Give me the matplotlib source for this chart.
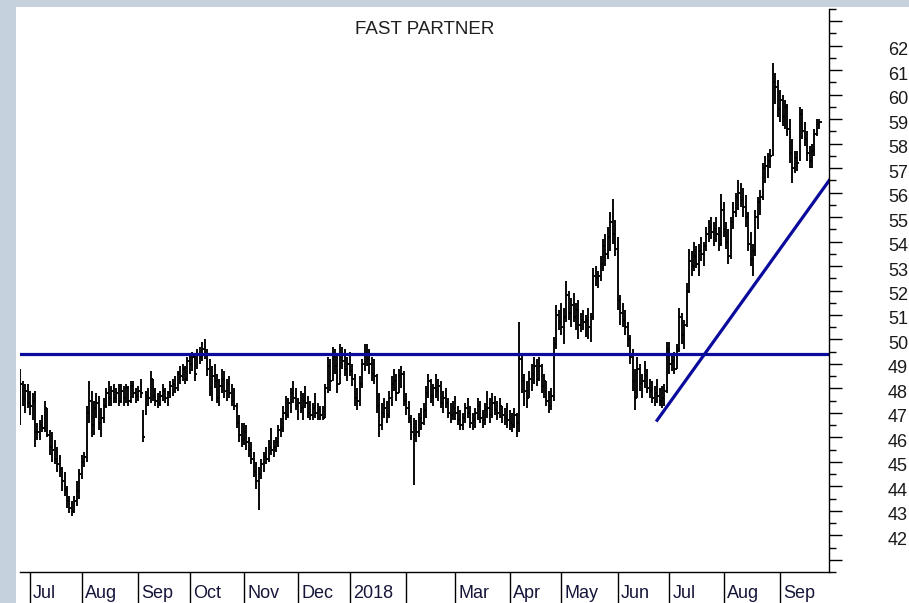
import matplotlib
matplotlib.use('Agg')
import matplotlib.pyplot as plt
import matplotlib.transforms as mtransforms
from matplotlib.patches import Rectangle
import numpy as np
import pandas as pd

plt.rcParams['font.family'] = ['Liberation Sans', 'DejaVu Sans']

# trading days on the chart (Jun 27 2017 .. Sep 25 2018)
dates = pd.bdate_range('2017-06-27', '2018-09-25')

# daily high / low / close, one block per month
hi = [
    # late Jun + Jul 2017
    48.8, 48.3, 48.2, 48.2, 47.9, 47.8, 47.9, 46.6, 46.7, 46.9, 47.5, 47.2, 46.3,
    46.2, 45.9, 45.6, 45.3, 44.8, 44.6, 44.0, 43.6, 43.4, 43.6, 44.2, 44.7,
    # Aug
    45.3, 45.4, 47.3, 48.3, 47.9, 47.5, 47.8, 47.7, 47.2, 47.6, 48.0, 48.3,
    48.1, 48.2, 48.0, 48.2, 48.2, 48.1, 48.2, 48.1, 48.3, 48.3, 48.0,
    # Sep
    48.1, 48.4, 47.1, 47.9, 48.0, 48.7, 48.4, 48.0, 47.8, 47.9, 48.2, 48.0,
    47.9, 48.3, 48.4, 48.5, 48.7, 48.9, 49.0, 48.9, 49.3,
    # Oct
    49.4, 49.5, 49.4, 49.6, 49.7, 49.9, 50.0, 49.6, 49.2, 48.9, 49.0, 48.6,
    48.4, 48.8, 48.7, 48.4, 48.5, 48.2, 48.0, 47.4, 46.9, 46.6,
    # Nov
    46.6, 46.5, 46.0, 45.8, 45.4, 45.0, 44.8, 45.1, 45.4, 45.6, 45.9, 46.4,
    45.9, 46.0, 46.5, 46.8, 47.3, 47.7, 47.6, 48.0, 48.3, 48.0,
    # Dec
    47.6, 47.9, 47.8, 48.1, 47.7, 47.5, 47.4, 47.8, 47.4, 47.3, 47.3, 48.2,
    49.3, 49.2, 49.7, 49.6, 49.4, 49.8, 49.7, 49.6, 49.3,
    # Jan 2018
    49.5, 49.0, 48.6, 48.0, 48.5, 49.2, 49.8, 49.8, 49.6, 49.3, 49.2, 48.6,
    47.8, 47.4, 47.6, 47.5, 47.9, 48.5, 48.8, 48.6, 48.8, 48.9, 48.7,
    # Feb
    47.8, 47.5, 46.9, 46.8, 46.7, 47.0, 47.2, 47.4, 48.1, 48.6, 48.4, 48.2,
    48.6, 48.4, 48.3, 47.9, 48.0, 47.6, 47.4, 47.5,
    # Mar
    47.7, 47.3, 47.1, 47.0, 47.4, 47.6, 47.3, 47.0, 47.2, 47.6, 47.5, 47.1,
    47.4, 47.9, 47.6, 47.8, 47.7, 47.5, 47.6, 47.3, 47.2, 47.4,
    # Apr
    47.1, 47.0, 47.2, 47.0, 50.7, 49.4, 48.6, 48.3, 48.7, 49.0, 49.3, 49.2,
    49.3, 49.0, 48.6, 48.3, 47.9, 48.0, 50.1, 51.4, 51.2,
    # May
    51.5, 51.3, 52.4, 52.0, 51.7, 51.9, 51.5, 51.6, 51.1, 51.2, 51.0, 51.3,
    51.1, 52.9, 53.0, 52.8, 53.4, 54.1, 54.3, 54.6, 55.2, 55.75, 54.9,
    # Jun
    54.2, 51.8, 51.5, 51.2, 50.7, 50.2, 49.6, 48.8, 49.3, 49.0, 48.6, 49.1,
    48.8, 48.4, 48.3, 48.1, 48.4, 48.0, 48.1, 48.2, 49.9,
    # Jul
    49.9, 49.4, 49.5, 49.8, 51.3, 51.1, 50.8, 52.3, 53.7, 53.6, 54.0, 53.8,
    53.9, 54.2, 54.0, 54.6, 54.9, 55.0, 54.8, 55.0, 54.6, 55.95,
    # Aug
    55.6, 54.8, 54.5, 55.0, 55.6, 56.0, 56.5, 56.4, 56.2, 55.9, 55.2, 54.4,
    53.9, 55.3, 55.8, 56.1, 57.2, 57.5, 57.6, 57.8, 61.3, 60.9, 60.6,
    # Sep
    60.2, 60.0, 59.8, 59.6, 59.0, 58.2, 57.7, 57.7, 59.5, 59.4, 58.9, 58.5,
    57.9, 58.0, 58.6, 59.0, 59.0,
]
lo = [
    46.5, 47.3, 47.0, 47.2, 46.9, 46.7, 45.6, 45.9, 45.9, 46.2, 46.2, 46.0, 45.3,
    45.0, 44.9, 44.6, 44.4, 43.8, 43.6, 43.1, 42.9, 42.8, 42.9, 43.2, 43.5,
    44.3, 44.8, 45.0, 46.6, 46.0, 46.1, 46.8, 46.3, 46.0, 46.6, 47.2, 47.3,
    47.3, 47.4, 47.4, 47.3, 47.4, 47.3, 47.4, 47.3, 47.4, 47.6, 47.4,
    47.5, 47.6, 45.8, 46.9, 47.3, 47.4, 47.5, 47.3, 47.2, 47.3, 47.5, 47.4,
    47.3, 47.6, 47.7, 47.8, 47.9, 48.2, 48.3, 48.2, 48.3,
    48.6, 48.7, 48.3, 48.8, 49.0, 49.1, 49.2, 48.5, 47.7, 47.5, 48.0, 47.4,
    47.3, 47.8, 47.6, 47.5, 47.6, 47.3, 47.1, 46.4, 45.8, 45.6,
    45.7, 45.5, 45.2, 44.9, 44.4, 43.9, 43.05, 44.3, 44.6, 44.9, 45.0, 45.3,
    45.2, 45.4, 45.6, 46.0, 46.2, 46.7, 46.8, 47.0, 47.4, 47.1,
    46.7, 47.0, 46.7, 47.2, 46.8, 46.7, 46.7, 46.8, 46.7, 46.7, 46.7, 46.8,
    47.8, 47.9, 48.3, 48.6, 47.8, 48.2, 48.8, 48.5, 48.3,
    48.5, 48.1, 47.3, 47.1, 47.3, 48.0, 48.7, 48.9, 48.6, 48.3, 48.2, 47.0,
    46.0, 46.3, 46.8, 46.6, 46.8, 47.3, 47.9, 47.5, 47.8, 48.0, 47.3,
    46.9, 46.6, 45.9, 44.05, 45.8, 46.0, 46.3, 46.5, 46.8, 47.6, 47.4, 47.3,
    47.6, 47.5, 47.2, 47.0, 47.2, 46.8, 46.6, 46.7,
    46.7, 46.5, 46.3, 46.3, 46.6, 46.8, 46.4, 46.3, 46.4, 46.7, 46.6, 46.4,
    46.5, 46.8, 46.6, 46.8, 46.9, 46.7, 46.8, 46.6, 46.5, 46.4,
    46.3, 46.2, 46.4, 46.0, 46.2, 47.8, 47.3, 47.2, 47.6, 47.9, 48.2, 48.1,
    48.3, 47.8, 47.6, 47.3, 47.0, 47.1, 47.5, 49.6, 50.4,
    50.2, 49.8, 50.7, 50.8, 50.5, 50.7, 50.4, 50.0, 50.3, 50.4, 50.1, 50.0,
    49.9, 50.8, 52.2, 52.1, 52.4, 52.8, 53.0, 53.3, 53.6, 53.9, 53.4,
    51.2, 50.6, 50.5, 50.2, 49.7, 49.0, 47.9, 47.1, 47.6, 47.9, 47.6, 48.0,
    47.8, 47.6, 47.4, 47.3, 47.4, 47.3, 47.2, 47.3, 47.8,
    48.6, 48.7, 48.6, 48.8, 49.5, 49.8, 49.6, 50.5, 51.9, 52.6, 52.8, 52.9,
    52.6, 53.2, 53.0, 53.6, 54.0, 54.1, 53.8, 54.0, 53.6, 53.8,
    54.2, 53.7, 53.1, 53.3, 54.5, 55.0, 55.3, 55.4, 55.0, 54.6, 53.6, 53.0,
    52.6, 53.4, 54.5, 55.1, 55.7, 56.4, 56.6, 57.0, 57.5, 59.6, 59.1,
    58.9, 58.7, 58.6, 58.3, 57.2, 56.4, 56.8, 56.9, 57.3, 58.2, 57.9, 57.3,
    57.0, 57.0, 57.5, 58.3, 58.6,
]
close = [
    48.2, 47.6, 47.9, 47.4, 47.3, 47.5, 46.2, 46.2, 46.5, 46.4, 47.2, 46.1, 45.6,
    45.5, 45.1, 44.9, 44.7, 44.2, 43.9, 43.4, 43.1, 43.0, 43.4, 43.8, 44.5,
    45.0, 45.2, 47.0, 47.5, 46.5, 47.2, 47.4, 46.6, 46.8, 47.3, 47.8, 47.6,
    47.9, 47.6, 47.8, 47.5, 47.9, 47.6, 48.0, 47.5, 48.1, 47.8, 47.7,
    47.9, 47.8, 46.0, 47.7, 47.6, 48.4, 47.7, 47.5, 47.4, 47.7, 47.9, 47.6,
    47.8, 48.1, 48.2, 48.0, 48.6, 48.5, 48.8, 48.4, 49.1,
    49.0, 49.3, 48.6, 49.4, 49.3, 49.6, 49.4, 48.8, 48.0, 48.5, 48.3, 47.6,
    48.1, 48.4, 47.9, 48.2, 47.8, 47.5, 47.3, 46.6, 46.1, 45.9,
    46.2, 45.8, 45.5, 45.1, 44.6, 44.2, 44.5, 44.9, 45.2, 45.1, 45.6, 45.5,
    45.6, 45.8, 46.3, 46.4, 47.0, 46.9, 47.4, 47.8, 47.6, 47.3,
    47.4, 47.2, 47.5, 47.4, 47.0, 46.9, 47.2, 47.0, 47.1, 46.9, 46.8, 48.0,
    48.9, 48.3, 49.3, 48.9, 48.2, 49.4, 49.1, 48.8, 49.0,
    48.7, 48.4, 47.6, 47.5, 48.2, 49.0, 49.4, 49.2, 49.0, 48.6, 48.5, 47.3,
    46.5, 47.0, 47.2, 46.9, 47.6, 48.2, 48.3, 47.8, 48.5, 48.6, 47.5,
    47.2, 46.8, 46.2, 46.1, 46.2, 46.8, 46.6, 47.1, 47.8, 48.3, 47.7, 48.0,
    47.9, 48.1, 47.4, 47.6, 47.4, 47.0, 46.9, 47.2,
    47.0, 46.7, 46.5, 46.8, 47.2, 47.0, 46.6, 46.7, 47.0, 47.3, 46.8, 46.7,
    47.1, 47.2, 46.9, 47.4, 47.1, 47.0, 47.3, 46.9, 46.8, 46.7,
    46.6, 46.5, 46.9, 46.6, 49.2, 48.3, 47.9, 47.6, 48.4, 48.6, 48.9, 48.4,
    48.9, 48.1, 48.3, 47.5, 47.3, 47.7, 49.8, 51.0, 50.7,
    50.5, 50.9, 51.8, 51.1, 51.4, 50.9, 51.2, 50.6, 50.8, 50.7, 50.8, 50.5,
    50.9, 52.6, 52.5, 52.6, 53.1, 53.8, 53.5, 54.2, 54.8, 54.3, 53.7,
    51.6, 51.1, 50.8, 50.5, 50.0, 49.3, 48.3, 47.6, 48.8, 48.2, 48.3, 48.5,
    48.0, 47.9, 47.6, 47.8, 47.7, 47.5, 47.6, 47.9, 49.6,
    49.0, 49.1, 48.8, 49.6, 50.9, 50.2, 50.6, 52.0, 53.2, 53.0, 53.4, 53.1,
    53.6, 53.5, 53.8, 54.3, 54.6, 54.4, 54.5, 54.3, 53.9, 55.3,
    54.5, 54.0, 53.4, 54.8, 55.2, 55.8, 56.0, 55.7, 55.4, 55.0, 53.9, 53.3,
    53.6, 55.0, 55.6, 55.8, 57.0, 57.1, 57.3, 57.5, 60.5, 60.3, 59.4,
    59.8, 59.1, 59.5, 58.6, 57.6, 57.0, 57.4, 57.2, 59.2, 58.5, 58.2, 57.6,
    57.3, 57.7, 58.4, 58.8, 58.9,
]

# drawn lines: resistance level and rising support (bar index, price)
resistance = 49.4
trend_x = [259, 329]
trend_y = [46.7, 56.5]

month_labels = ['Jul', 'Aug', 'Sep', 'Oct', 'Nov', 'Dec', '2018', '',
                'Mar', 'Apr', 'May', 'Jun', 'Jul', 'Aug', 'Sep']
price_ticks = list(range(41, 64))

assert len(hi) == len(lo) == len(close) == len(dates)

idx = np.arange(len(dates))
month_pos = [i for i in range(1, len(dates)) if dates[i].month != dates[i - 1].month]

fig = plt.figure(figsize=(9.09, 6.03), dpi=100)
fig.patch.set_facecolor('#c5d2de')
fig.add_artist(Rectangle((16 / 909, 0), 1, 596 / 603, transform=fig.transFigure,
                         facecolor='white', edgecolor='none', zorder=-5))

ax = fig.add_axes([20 / 909, 31 / 603, 809 / 909, 563 / 603])
ax.set_facecolor('white')

blue = '#0a0a9c'
ax.vlines(idx, lo, hi, color='black', lw=1.35)
ax.hlines(close, idx, idx + 0.9, color='black', lw=1.35)
ax.axhline(resistance, color=blue, lw=2.3)
ax.plot(trend_x, trend_y, color=blue, lw=2.3)

ax.set_xlim(-0.1, 328.9)
ax.set_ylim(40.79, 63.13)

for s in ['left', 'top']:
    ax.spines[s].set_visible(False)
for s in ['right', 'bottom']:
    ax.spines[s].set_linewidth(1.0)
    ax.spines[s].set_color('black')

# price axis on the right
ax.yaxis.tick_right()
ylabels = ['' if (v == 41 or v == 63) else str(v) for v in price_ticks]
ax.set_yticks(price_ticks, ylabels)
ax.set_yticks(np.arange(40.5, 63.6, 1.0), minor=True)
ax.tick_params(axis='y', which='major', direction='out', length=9.4, width=1.0,
               pad=33, labelsize=13, labelcolor='#1a1a1a')
ax.tick_params(axis='y', which='minor', direction='out', length=5, width=1.0)
down = mtransforms.ScaledTranslation(0, -3 / 100, fig.dpi_scale_trans)
for lab in ax.get_yticklabels():
    lab.set_transform(lab.get_transform() + down)

# month boxes under the chart
ax.set_xticks(month_pos, month_labels)
ax.tick_params(axis='x', which='major', direction='out', length=23, width=1.0,
               pad=-14, labelsize=13, labelcolor='#15153a')
right = mtransforms.ScaledTranslation(3 / 100, 0, fig.dpi_scale_trans)
for lab in ax.get_xticklabels():
    lab.set_horizontalalignment('left')
    lab.set_transform(lab.get_transform() + right)

ax.text(0.5, 1 - 21 / 563, 'FAST PARTNER', transform=ax.transAxes,
        ha='center', va='center', fontsize=13.5, color='#202020')

fig.savefig('out.png', dpi=100, facecolor=fig.get_facecolor())
